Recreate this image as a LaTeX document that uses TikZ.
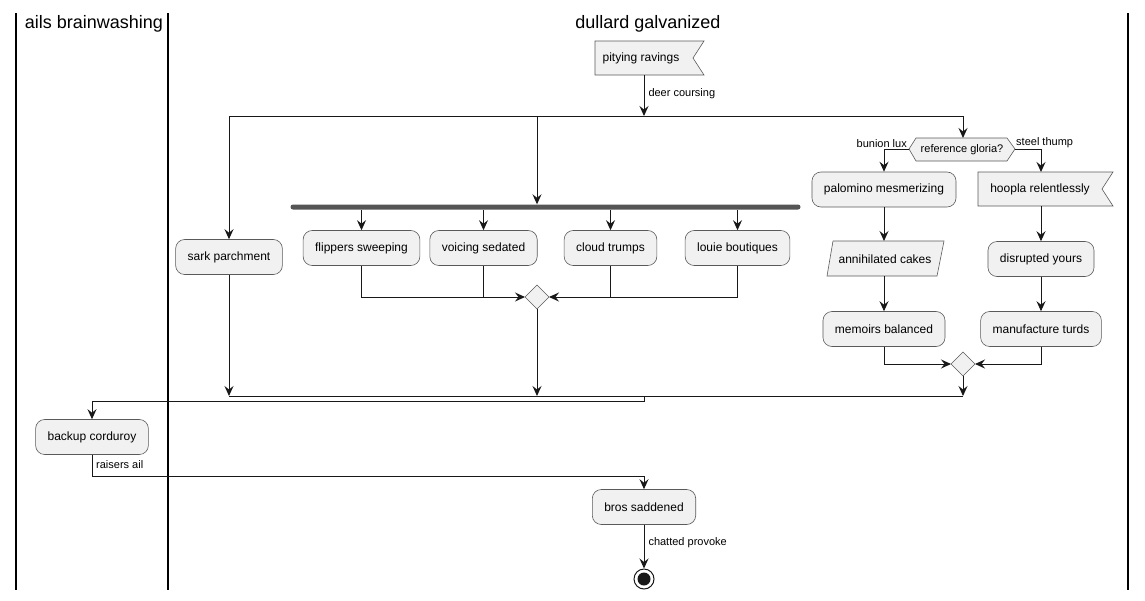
\documentclass[tikz,border=0pt]{standalone}
\usepackage{fontspec}
\setmainfont{Liberation Sans}
\usetikzlibrary{arrows.meta}
\definecolor{boxfill}{HTML}{F1F1F1}
\definecolor{boxline}{HTML}{5A5A5A}
\definecolor{ink}{HTML}{181818}
\definecolor{barcol}{HTML}{555555}
\begin{document}
\begin{tikzpicture}[x=1pt,y=-1pt,
  act/.style={draw=boxline, fill=boxfill, line width=0.6pt, rounded corners=9pt,
    minimum height=35pt, inner xsep=12pt, inner ysep=0pt, font=\fontsize{12}{14}\selectfont},
  plain/.style={inner sep=0pt, font=\fontsize{12}{14}\selectfont},
  shapeline/.style={draw=boxline, fill=boxfill, line width=0.6pt, line join=miter},
  flow/.style={draw=ink, line width=1pt, -{Stealth[length=10pt,width=9pt,inset=3.5pt]}},
  link/.style={draw=ink, line width=1pt},
  lbl/.style={font=\fontsize{11}{13}\selectfont, inner sep=0pt},
  lane/.style={draw=black, line width=1.6pt},
  lanetitle/.style={font=\fontsize{18}{21}\selectfont, inner sep=0pt}
]
\useasboundingbox (0,0) rectangle (1145,600);

% swimlane borders and titles
\draw[lane] (16,13) -- (16,590);
\draw[lane] (168,13) -- (168,590);
\draw[lane] (1128,13) -- (1128,590);
\node[lanetitle] (t1) at (94,24) {ails brainwashing};
\node[lanetitle] (t2) at (648,24) {dullard galvanized};

% start signal
\draw[shapeline] (595,41) -- (704,41) -- (693,58) -- (704,75) -- (595,75) -- cycle;
\node[plain] (pr) at (641,58) {pitying ravings};
\coordinate (prb) at (644,75);

% split line
\coordinate (sp) at (644,116);
\coordinate (spL) at (229,116);
\coordinate (spM) at (537,116);
\coordinate (spR) at (963,116);
\draw[flow] (prb) -- node[lbl, right=4pt, pos=0.45] {deer coursing} (sp);
\draw[link] (spL) -- (spR);

% left branch
\node[act] (sark) at (229,257) {sark parchment};
\draw[flow] (spL) -- (sark);

% fork branch
\node[fill=barcol, rounded corners=2.5pt, minimum width=510pt, minimum height=5pt, inner sep=0pt] (bar) at (545.5,207) {};
\draw[flow] (spM) -- (bar.north -| spM);
\node[act] (fs) at (361.5,248) {flippers sweeping};
\node[act] (vs) at (483.5,248) {voicing sedated};
\node[act] (ct) at (610.5,248) {cloud trumps};
\node[act] (lb) at (737.5,248) {louie boutiques};
\foreach \b in {fs,vs,ct,lb} \draw[flow] (bar.south -| \b) -- (\b);
\draw[shapeline] (525,297) -- (537,285) -- (549,297) -- (537,309) -- cycle;
\coordinate (j1) at (537,297);
\coordinate (j1w) at (525,297);
\coordinate (j1e) at (549,297);
\coordinate (j1s) at (537,309);
\draw[flow] (fs.south) |- (j1w);
\draw[flow] (lb.south) |- (j1e);
\draw[link] (vs.south) -- (vs.south |- j1);
\draw[link] (ct.south) -- (ct.south |- j1);

% decision branch
\draw[shapeline] (909,149) -- (916,138) -- (1007,138) -- (1015,149) -- (1007,161) -- (916,161) -- cycle;
\node[lbl] (dec) at (962,149.5) {reference gloria?};
\coordinate (decN) at (963,138);
\coordinate (decW) at (909,149);
\coordinate (decE) at (1015,149);
\draw[flow] (spR) -- (decN);
\node[lbl, anchor=south east] at (907,148) {bunion lux};
\node[lbl, anchor=south west] at (1016,148) {steel thump};

\node[act] (pm) at (884,189.5) {palomino mesmerizing};
\draw[shapeline] (978,172) -- (1113,172) -- (1102,189) -- (1113,206) -- (978,206) -- cycle;
\node[plain] (hr) at (1040,189) {hoopla relentlessly};
\coordinate (hrN) at (1041,172);
\coordinate (hrS) at (1041,206);
\draw[flow] (decW) -| (pm);
\draw[flow] (decE) -| (hrN);

\draw[shapeline] (833,241) -- (944,241) -- (937,276) -- (827,276) -- cycle;
\node[plain] (ac) at (885,259) {annihilated cakes};
\coordinate (acN) at (884,241);
\coordinate (acS) at (884,276);
\node[act] (dy) at (1041,259) {disrupted yours};
\node[act] (mb) at (884,329) {memoirs balanced};
\node[act] (mt) at (1041,329) {manufacture turds};
\draw[flow] (pm) -- (acN);
\draw[flow] (acS) -- (mb);
\draw[flow] (hrS) -- (dy);
\draw[flow] (dy) -- (mt);

\draw[shapeline] (951,364) -- (963,352) -- (975,364) -- (963,376) -- cycle;
\coordinate (j2) at (963,364);
\coordinate (j2w) at (951,364);
\coordinate (j2e) at (975,364);
\coordinate (j2s) at (963,376);
\draw[flow] (mb.south) |- (j2w);
\draw[flow] (mt.south) |- (j2e);

% merge
\coordinate (mL) at (229,396);
\coordinate (mM) at (537,396);
\coordinate (mR) at (963,396);
\draw[flow] (sark) -- (mL);
\draw[flow] (j1s) -- (mM);
\draw[flow] (j2s) -- (mR);
\draw[link] (mL) -- (mR);

% continuation into the first lane
\coordinate (m1) at (644,396);
\coordinate (m2) at (644,401);
\node[act] (bc) at (92,437) {backup corduroy};
\draw[flow] (m1) -- (m2) -| (bc);

\coordinate (r) at (644,476);
\node[act] (bs) at (644,507) {bros saddened};
\draw[flow] (bc.south) -- (bc.south |- r) -- (r) -- (bs);
\node[lbl, anchor=west] at (96,465) {raisers ail};

% end
\node[circle, draw=ink, fill=white, line width=1pt, minimum size=20pt, inner sep=0pt] (stop) at (644,579) {};
\fill[ink] (stop.center) circle (6.5pt);
\draw[flow] (bs) -- node[lbl, right=4pt, pos=0.4] {chatted provoke} (stop);
\end{tikzpicture}
\end{document}
